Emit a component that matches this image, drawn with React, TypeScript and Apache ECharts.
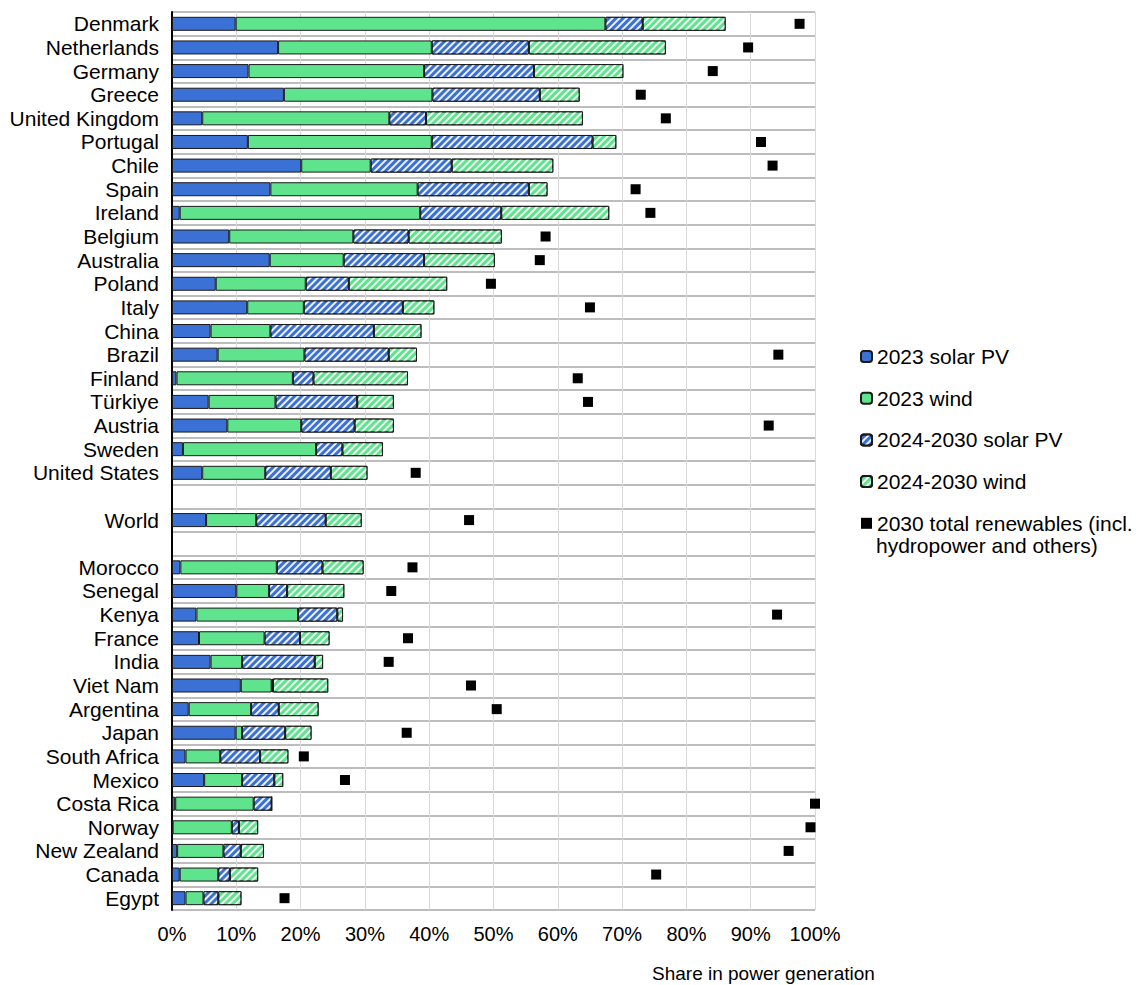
import React, { useEffect, useRef } from "react";
import * as echarts from "echarts";

const categories = [
  "Denmark", "Netherlands", "Germany", "Greece", "United Kingdom", "Portugal", "Chile", "Spain",
  "Ireland", "Belgium", "Australia", "Poland", "Italy", "China", "Brazil", "Finland", "Türkiye",
  "Austria", "Sweden", "United States", "", "World", " ", "Morocco", "Senegal", "Kenya", "France",
  "India", "Viet Nam", "Argentina", "Japan", "South Africa", "Mexico", "Costa Rica", "Norway",
  "New Zealand", "Canada", "Egypt",
];

const solar2023 = [
  9.9, 16.5, 11.9, 17.4, 4.7, 11.8, 20.1, 15.3, 1.2, 8.9, 15.2, 6.8, 11.7, 6.0, 7.1, 0.7, 5.7,
  8.6, 1.7, 4.7, null, 5.3, null, 1.3, 10.0, 3.8, 4.2, 6.0, 10.7, 2.6, 9.9, 2.1, 5.0, 0.5, 0.1,
  0.8, 1.2, 2.1,
];
const wind2023 = [
  57.5, 23.9, 27.3, 23.1, 29.1, 28.6, 10.8, 22.9, 37.4, 19.3, 11.5, 14.0, 8.8, 9.3, 13.5, 18.1,
  10.4, 11.5, 20.7, 9.8, null, 7.8, null, 15.0, 5.1, 15.8, 10.2, 4.9, 4.8, 9.7, 1.0, 5.4, 5.9,
  12.2, 9.2, 7.2, 6.0, 2.8,
];
const solarAdd = [
  5.8, 15.1, 17.1, 16.7, 5.7, 25.0, 12.6, 17.3, 12.6, 8.6, 12.5, 6.7, 15.4, 16.1, 13.1, 3.2,
  12.7, 8.3, 4.1, 10.2, null, 10.8, null, 7.1, 2.8, 6.1, 5.5, 11.3, 0.2, 4.3, 6.7, 6.2, 5.0, 2.8,
  1.1, 2.7, 1.8, 2.3,
];
const windAdd = [
  12.9, 21.3, 13.9, 6.2, 24.4, 3.7, 15.8, 2.9, 16.8, 14.5, 11.0, 15.3, 4.9, 7.4, 4.4, 14.7, 5.7,
  6.1, 6.3, 5.7, null, 5.6, null, 6.4, 8.9, 0.9, 4.6, 1.3, 8.6, 6.2, 4.1, 4.4, 1.4, 0, 3.0, 3.6,
  4.4, 3.6,
];
const total2030 = [
  97.6, 89.6, 84.1, 72.9, 76.8, 91.6, 93.4, 72.1, 74.4, 58.1, 57.2, 49.6, 65.0, null, 94.3, 63.1,
  64.7, 92.8, null, 37.9, null, 46.2, null, 37.4, 34.1, 94.1, 36.7, 33.7, 46.5, 50.5, 36.5, 20.5,
  26.9, 100, 99.3, 95.9, 75.3, 17.5,
];

const xTicks = { min: 0, max: 100, interval: 10 };

const FONT = "'Liberation Sans', Arial, sans-serif";
const BLUE = "#3b71d4";
const GREEN = "#5fe38d";

const hatch = {
  symbol: "rect",
  symbolSize: 1,
  dashArrayX: [1, 0],
  dashArrayY: [2, 3],
  rotation: -Math.PI / 4,
  color: "rgba(255,255,255,0.9)",
};

export default function App() {
  const ref = useRef<HTMLDivElement>(null);

  useEffect(() => {
    document.body.style.margin = "0";
    const chart = echarts.init(ref.current!, null, { renderer: "svg" });
    const barBase = {
      type: "bar",
      stack: "total",
      barWidth: 14,
    };
    chart.setOption({
      animation: false,
      textStyle: { fontFamily: FONT },
      grid: { left: 172, right: 324, top: 12, bottom: 75, containLabel: false },
      legend: {
        orient: "vertical",
        left: 860,
        top: 345,
        padding: 0,
        itemWidth: 11,
        itemHeight: 11,
        itemGap: 18.7,
        textStyle: { fontSize: 21, color: "#000", fontFamily: FONT, lineHeight: 23 },
        data: [
          "2023 solar PV",
          "2023 wind",
          "2024-2030 solar PV",
          "2024-2030 wind",
          { name: "2030 total renewables (incl.", icon: "rect" },
        ],
      },
      xAxis: {
        type: "value",
        min: xTicks.min,
        max: xTicks.max,
        interval: xTicks.interval,
        axisLabel: {
          formatter: "{value}%",
          fontSize: 20,
          color: "#000",
          margin: 14,
          fontFamily: FONT,
        },
        axisLine: { show: false },
        axisTick: { show: false },
        splitLine: { show: true, lineStyle: { color: "#d9d9d9", width: 1 } },
      },
      yAxis: {
        type: "category",
        data: categories,
        inverse: true,
        axisLabel: { fontSize: 21, color: "#000", margin: 13, fontFamily: FONT, interval: 0 },
        axisLine: { show: true, lineStyle: { color: "#000", width: 2 } },
        axisTick: { show: false, interval: 0 },
        splitLine: { show: true, interval: 0, lineStyle: { color: "#bdbdbd", width: 2 } },
      },
      series: [
        {
          ...barBase,
          name: "2023 solar PV",
          data: solar2023,
          itemStyle: { color: BLUE, borderColor: "#1a1a1a", borderWidth: 1 },
        },
        {
          ...barBase,
          name: "2023 wind",
          data: wind2023,
          itemStyle: { color: GREEN, borderColor: "#1a1a1a", borderWidth: 1 },
        },
        {
          ...barBase,
          name: "2024-2030 solar PV",
          data: solarAdd,
          itemStyle: { color: BLUE, borderColor: "#1a1a1a", borderWidth: 1, decal: hatch },
        },
        {
          ...barBase,
          name: "2024-2030 wind",
          data: windAdd,
          itemStyle: { color: GREEN, borderColor: "#1a1a1a", borderWidth: 1, decal: hatch },
        },
        {
          type: "scatter",
          name: "2030 total renewables (incl.",
          data: total2030,
          symbol: "rect",
          symbolSize: 10,
          itemStyle: { color: "#000", opacity: 1 },
          clip: true,
          z: 5,
        },
      ],
      graphic: [
        {
          type: "text",
          left: 876,
          top: 535,
          style: {
            text: "hydropower and others)",
            font: `21px ${FONT}`,
            fill: "#000",
          },
        },
        {
          type: "text",
          left: 652,
          top: 964,
          style: {
            text: "Share in power generation",
            font: `19px ${FONT}`,
            fill: "#000",
          },
        },
      ],
    });
    return () => chart.dispose();
  }, []);

  return <div ref={ref} style={{ width: 1139, height: 985 }} />;
}
